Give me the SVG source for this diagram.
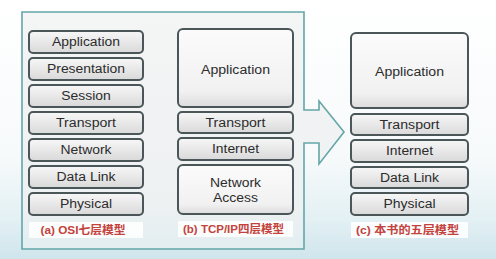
<svg xmlns="http://www.w3.org/2000/svg" width="496" height="259" viewBox="0 0 496 259">
<defs>
<linearGradient id="bg" x1="0" y1="0" x2="0" y2="1">
<stop offset="0" stop-color="#ffffff"/>
<stop offset="0.6" stop-color="#f7fafb"/>
<stop offset="0.85" stop-color="#e3f0f4"/>
<stop offset="1" stop-color="#cfe5ec"/>
</linearGradient>
<linearGradient id="frm" x1="0" y1="0" x2="0" y2="1">
<stop offset="0" stop-color="#f4f5f5"/>
<stop offset="0.8" stop-color="#eef1f2"/>
<stop offset="1" stop-color="#e2eef1"/>
</linearGradient>
<linearGradient id="box" x1="0" y1="0" x2="0" y2="1">
<stop offset="0" stop-color="#f7f7f7"/>
<stop offset="1" stop-color="#d9d9d9"/>
</linearGradient>
<linearGradient id="big" x1="0" y1="0" x2="0" y2="1">
<stop offset="0" stop-color="#fbfbfb"/>
<stop offset="0.8" stop-color="#f1f1f1"/>
<stop offset="1" stop-color="#dcdcdc"/>
</linearGradient>
</defs>
<style>
.b{fill:url(#box);stroke:#4a5657;stroke-width:2}
.g{fill:url(#big);stroke:#4a5657;stroke-width:2}
.t{font-family:"Liberation Sans",Arial,sans-serif;font-size:12px;fill:#2c2c2c;text-anchor:middle}
.l{font-family:"Liberation Sans","Noto Sans CJK SC",sans-serif;font-size:11px;font-weight:bold;fill:#c4423c;text-anchor:middle}
.lb{fill:#ffffff;opacity:0.85}
</style>
<rect x="0" y="0" width="496" height="259" fill="url(#bg)"/>
<g id="connectors">
<path d="M22,12 H304 V110 H319 V101 L344,132 L319,164 V143 H304 V249 H22 Z" fill="url(#frm)" stroke="#64a6a8" stroke-width="1.6"/>
</g>
<g id="osi">
<rect x="29" y="222" width="114" height="16" class="lb"/>
<g id="a-application"><rect x="29" y="31" width="114" height="22" rx="4" class="b"/><text x="86" y="46" class="t" textLength="68" lengthAdjust="spacingAndGlyphs">Application</text></g>
<g id="a-presentation"><rect x="29" y="58" width="114" height="22" rx="4" class="b"/><text x="86" y="73" class="t" textLength="78" lengthAdjust="spacingAndGlyphs">Presentation</text></g>
<g id="a-session"><rect x="29" y="85" width="114" height="22" rx="4" class="b"/><text x="86" y="100" class="t" textLength="49.5" lengthAdjust="spacingAndGlyphs">Session</text></g>
<g id="a-transport"><rect x="29" y="112" width="114" height="22" rx="4" class="b"/><text x="86" y="127" class="t" textLength="60" lengthAdjust="spacingAndGlyphs">Transport</text></g>
<g id="a-network"><rect x="29" y="139" width="114" height="22" rx="4" class="b"/><text x="86" y="154" class="t" textLength="51" lengthAdjust="spacingAndGlyphs">Network</text></g>
<g id="a-datalink"><rect x="29" y="166" width="114" height="22" rx="4" class="b"/><text x="86" y="181" class="t" textLength="59" lengthAdjust="spacingAndGlyphs">Data Link</text></g>
<g id="a-physical"><rect x="29" y="193" width="114" height="22" rx="4" class="b"/><text x="86" y="208" class="t" textLength="52" lengthAdjust="spacingAndGlyphs">Physical</text></g>
<text x="83" y="234" class="l" textLength="85" lengthAdjust="spacingAndGlyphs">(a) OSI七层模型</text>
</g>
<g id="tcpip">
<rect x="178" y="221" width="115" height="16" class="lb"/>
<g id="b-application"><rect x="178" y="29" width="115" height="78" rx="5" class="g"/><text x="235.5" y="74" class="t" textLength="69" lengthAdjust="spacingAndGlyphs">Application</text></g>
<g id="b-transport"><rect x="178" y="112" width="115" height="21" rx="4" class="b"/><text x="235.5" y="127" class="t" textLength="60" lengthAdjust="spacingAndGlyphs">Transport</text></g>
<g id="b-internet"><rect x="178" y="138" width="115" height="22" rx="4" class="b"/><text x="235.5" y="153" class="t" textLength="47" lengthAdjust="spacingAndGlyphs">Internet</text></g>
<g id="b-netaccess"><rect x="178" y="165" width="115" height="49" rx="5" class="g"/><text x="235.5" y="187" class="t" textLength="51" lengthAdjust="spacingAndGlyphs">Network</text><text x="235.5" y="202" class="t" textLength="45" lengthAdjust="spacingAndGlyphs">Access</text></g>
<text x="233.5" y="233" class="l" textLength="101" lengthAdjust="spacingAndGlyphs">(b) TCP/IP四层模型</text>
</g>
<g id="five">
<rect x="351" y="222" width="117" height="16" class="lb"/>
<g id="c-application"><rect x="351" y="33" width="117" height="75" rx="5" class="g"/><text x="409.5" y="76" class="t" textLength="69" lengthAdjust="spacingAndGlyphs">Application</text></g>
<g id="c-transport"><rect x="351" y="114" width="117" height="21" rx="4" class="b"/><text x="409.5" y="129" class="t" textLength="60" lengthAdjust="spacingAndGlyphs">Transport</text></g>
<g id="c-internet"><rect x="351" y="140" width="117" height="22" rx="4" class="b"/><text x="409.5" y="155" class="t" textLength="47" lengthAdjust="spacingAndGlyphs">Internet</text></g>
<g id="c-datalink"><rect x="351" y="167" width="117" height="21" rx="4" class="b"/><text x="409.5" y="182" class="t" textLength="59" lengthAdjust="spacingAndGlyphs">Data Link</text></g>
<g id="c-physical"><rect x="351" y="193" width="117" height="22" rx="4" class="b"/><text x="409.5" y="208" class="t" textLength="52" lengthAdjust="spacingAndGlyphs">Physical</text></g>
<text x="407.5" y="234" class="l" textLength="103" lengthAdjust="spacingAndGlyphs">(c) 本书的五层模型</text>
</g>
</svg>
